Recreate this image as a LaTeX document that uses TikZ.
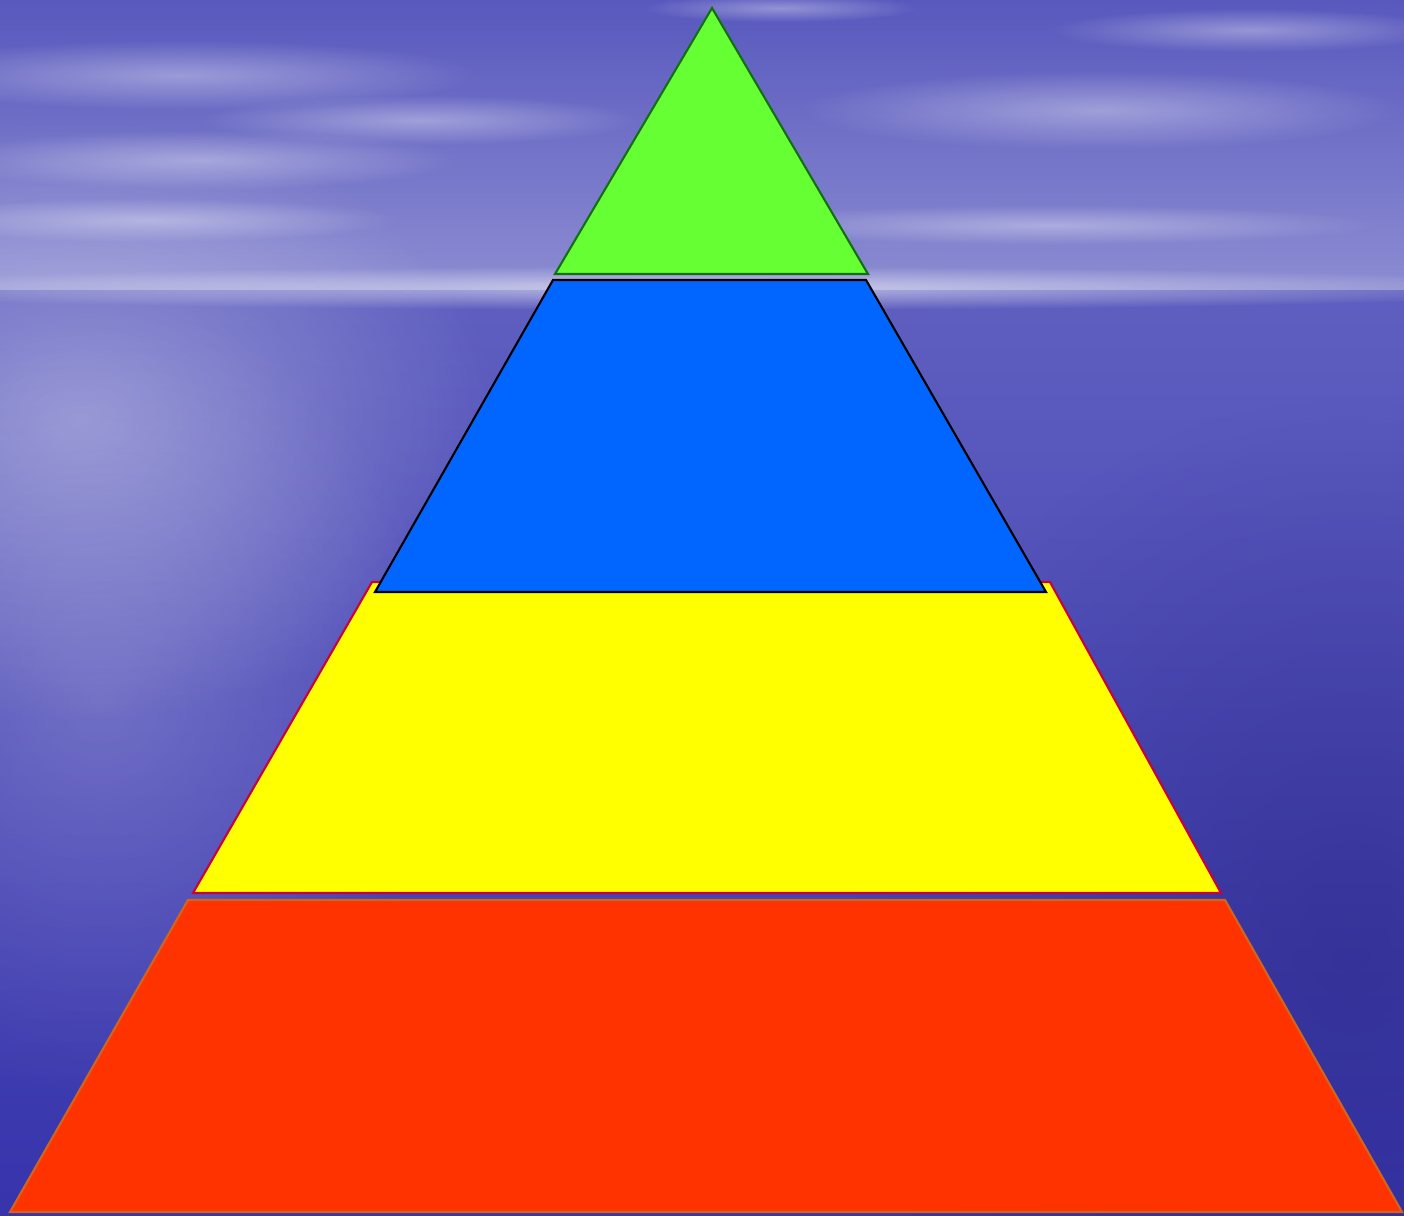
\documentclass[tikz,border=0pt]{standalone}
\usetikzlibrary{fadings}
\definecolor{skytop}{RGB}{88,88,190}
\definecolor{skyhor}{RGB}{140,140,210}
\definecolor{seatop}{RGB}{95,95,192}
\definecolor{seabot}{RGB}{55,52,172}
\definecolor{lgreen}{RGB}{102,255,51}
\definecolor{dgreen}{RGB}{20,110,20}
\definecolor{lblue}{RGB}{0,102,255}
\definecolor{lyellow}{RGB}{255,255,0}
\definecolor{crim}{RGB}{200,0,60}
\definecolor{lred}{RGB}{255,51,0}
\definecolor{ored}{RGB}{210,100,30}
\tikzfading[name=softglow, inner color=transparent!0, outer color=transparent!100]
\tikzset{
  layer/.style={line width=0.6pt, line join=miter},
  cloud/.style={white, opacity=0.35, path fading=softglow},
}
\begin{document}
\begin{tikzpicture}[x=0.01cm,y=-0.01cm]
\useasboundingbox (0,0) rectangle (1404,1215);
% sky
\shade[top color=skytop, bottom color=skyhor] (0,0) rectangle (1404,290);
% sea
\shade[top color=seatop, bottom color=seabot] (0,290) rectangle (1404,1215);
% horizon glow band
\fill[white, opacity=0.55, path fading=softglow] (700,288) ellipse (900 and 22);
% left side lighter glow
\fill[white, opacity=0.35, path fading=softglow] (80,420) ellipse (420 and 300);
\fill[white, opacity=0.2, path fading=softglow] (100,700) ellipse (350 and 400);
% bottom right darker
\fill[seabot!75!black, opacity=0.5, path fading=softglow] (1350,950) ellipse (500 and 550);
% clouds
\fill[cloud] (180,75) ellipse (300 and 35);
\fill[cloud] (200,160) ellipse (260 and 30);
\fill[cloud] (150,220) ellipse (250 and 22);
\fill[cloud] (420,120) ellipse (220 and 25);
\fill[cloud] (1100,110) ellipse (300 and 40);
\fill[cloud] (1250,30) ellipse (200 and 22);
\fill[cloud] (1050,225) ellipse (330 and 20);
\fill[cloud] (780,8) ellipse (140 and 14);
% pyramid layers
\draw[layer, draw=ored, fill=lred] (188,900) -- (1225,900) -- (1402,1212) -- (10,1212) -- cycle;
\draw[layer, draw=crim, fill=lyellow] (372,582) -- (1050,582) -- (1221,893) -- (193,893) -- cycle;
\draw[layer, draw=black, fill=lblue] (553,280) -- (866,280) -- (1046,592) -- (375,592) -- cycle;
\draw[layer, draw=dgreen, fill=lgreen] (712,8) -- (868,274) -- (555,274) -- cycle;
\end{tikzpicture}
\end{document}
